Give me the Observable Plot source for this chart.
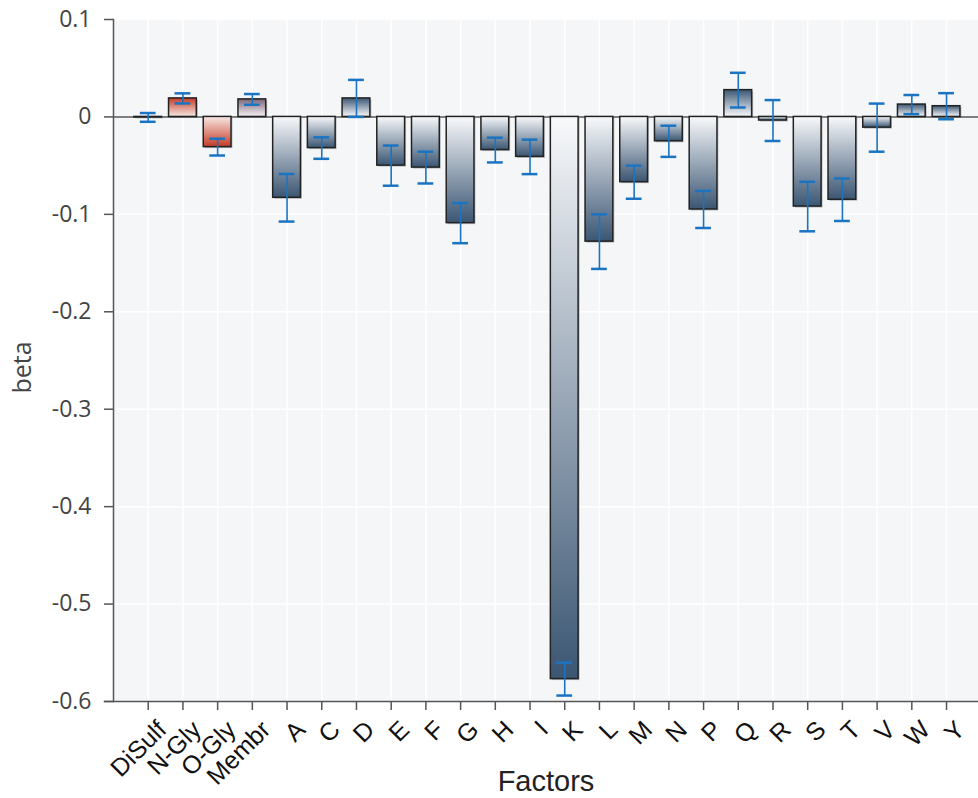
<!DOCTYPE html>
<html><head><meta charset="utf-8">
<script src="https://cdn.jsdelivr.net/npm/d3@7"></script>
<script src="https://cdn.jsdelivr.net/npm/@observablehq/plot@0.6"></script>
<style>
body{margin:0;background:#fff;}
#chart svg{overflow:visible;}
</style>
</head><body><div id="chart"></div>
<script>
const factors = ["DiSulf","N-Gly","O-Gly","Membr","A","C","D","E","F","G","H","I","K","L","M","N","P","Q","R","S","T","V","W","Y"];
const beta = [-0.0005,0.019,-0.031,0.018,-0.083,-0.032,0.019,-0.050,-0.052,-0.109,-0.034,-0.041,-0.577,-0.128,-0.067,-0.025,-0.095,0.0275,-0.0037,-0.092,-0.085,-0.011,0.0127,0.011];
const stdErr = [0.0045,0.0052,0.0086,0.0055,0.0244,0.011,0.019,0.0206,0.0163,0.0206,0.0127,0.0177,0.0169,0.028,0.017,0.016,0.019,0.0178,0.021,0.0254,0.0218,0.0247,0.0098,0.0134];
const factorGroup = ["structure","glycosylation","glycosylation","membrane","residue","residue","residue","residue","residue","residue","residue","residue","residue","residue","residue","residue","residue","residue","residue","residue","residue","residue","residue","residue"];
const yTicks = [0.1,0,-0.1,-0.2,-0.3,-0.4,-0.5,-0.6];

const groupColor = {structure:"#3b5673", residue:"#3b5673", glycosylation:"#c33a27", membrane:"#7c6475"};
const groupLight = {structure:"#f8f9fb", residue:"#f8f9fb", glycosylation:"#f8e9e4", membrane:"#f6f2f5"};

const data = factors.map((f,i)=>({factor:f, beta:beta[i], err:stdErr[i], group:factorGroup[i]}));
const gradId = d => `g-${d.group}-${d.beta < 0 ? "neg" : "pos"}`;

const W = 978, H = 798;
const mL = 113, mT = 19, mB = 97, mR = 0;
const step = 34.71;
const sans = "'Liberation Sans', Arial, sans-serif";

const plot = Plot.plot({
  width: W, height: H,
  marginLeft: mL, marginTop: mT, marginBottom: mB, marginRight: mR,
  style: {background: "#ffffff", fontFamily: "'Open Sans', sans-serif"},
  x: {domain: factors, range: [mL, mL + step*25], paddingInner: 0.2, paddingOuter: 0.6, align: 0.5, round: false},
  y: {domain: [-0.6, 0.1]},
  color: {type: "identity"},
  marks: [
    Plot.frame({fill: "#f4f6f8", stroke: null}),
    Plot.gridY(yTicks, {stroke: "#ffffff", strokeOpacity: 1, strokeWidth: 1.5}),
    Plot.gridX(factors, {stroke: "#ffffff", strokeOpacity: 1, strokeWidth: 1.5}),
    Plot.barY(data, {x: "factor", y: "beta", fill: "#8a8f96", fillOpacity: 0.55, dx: 1.5, dy: 1.5}),
    Plot.ruleY([0], {stroke: "#555", strokeWidth: 1.5}),
    Plot.barY(data, {x: "factor", y: "beta", fill: d => `url(#${gradId(d)})`, stroke: "#222", strokeWidth: 1.5}),
    Plot.ruleX(data, {x: "factor", y1: d => d.beta - d.err, y2: d => d.beta + d.err, stroke: "#1a74c2", strokeWidth: 1.6}),
    Plot.tickY(data, {x: "factor", y: d => d.beta + d.err, stroke: "#1a74c2", strokeWidth: 2.5, insetLeft: 6, insetRight: 6}),
    Plot.tickY(data, {x: "factor", y: d => d.beta - d.err, stroke: "#1a74c2", strokeWidth: 2.5, insetLeft: 6, insetRight: 6}),
    Plot.axisY({ticks: yTicks, tickFormat: d => d === 0 ? "0" : d.toFixed(1), tickSize: 9, tickPadding: 13, fontSize: 23, fill: "#444", stroke: "#555", strokeWidth: 1.5, label: null}),
    Plot.axisX({tickSize: 9, tickFormat: () => "", stroke: "#555", strokeWidth: 1.5, label: null}),
    Plot.text(factors, {x: d => d, text: d => d, frameAnchor: "bottom", rotate: -45, textAnchor: "end", lineAnchor: "middle", dx: 14, dy: 24, fontSize: 25, fill: "#111", fontFamily: sans}),
    Plot.frame({anchor: "left", stroke: "#555", strokeWidth: 1.5}),
    Plot.frame({anchor: "bottom", stroke: "#555", strokeWidth: 1.5, insetLeft: -9}),
    Plot.text(["beta"], {frameAnchor: "left", textAnchor: "middle", lineAnchor: "middle", dx: -91, dy: 7, rotate: -90, fontSize: 25, fill: "#444", text: d => d}),
    Plot.text(["Factors"], {frameAnchor: "bottom", textAnchor: "middle", lineAnchor: "middle", dy: 80, fontSize: 29, fill: "#222", text: d => d, fontFamily: sans})
  ]
});

const svg = d3.select(plot);
const defs = svg.insert("defs", ":first-child");
for (const g of Object.keys(groupColor)) {
  for (const sign of ["neg","pos"]) {
    const lg = defs.append("linearGradient").attr("id", `g-${g}-${sign}`)
      .attr("x1", 0).attr("x2", 0).attr("y1", 0).attr("y2", 1);
    const top = sign === "neg" ? groupLight[g] : groupColor[g];
    const bot = sign === "neg" ? groupColor[g] : groupLight[g];
    lg.append("stop").attr("offset", "0%").attr("stop-color", top);
    lg.append("stop").attr("offset", "100%").attr("stop-color", bot);
  }
}
document.getElementById("chart").appendChild(plot);
</script>
</body></html>
